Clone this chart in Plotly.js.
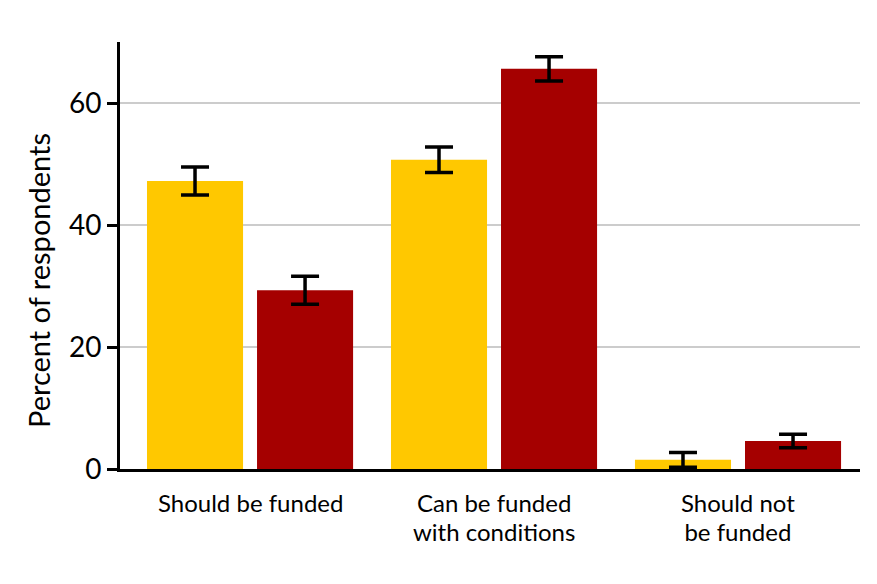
<!DOCTYPE html>
<html><head><meta charset="utf-8">
<script src="https://cdn.plot.ly/plotly-3.0.1.min.js"></script>
<style>html,body{margin:0;padding:0;background:#fff}#chart{width:877px;height:584px}</style>
</head><body><div id="chart"></div>
<script>
const categories = ["Should be funded", "Can be funded<br>with conditions", "Should not<br>be funded"];
const seriesA = [47.2, 50.7, 1.5];
const errA = [2.3, 2.1, 1.2];
const seriesB = [29.3, 65.6, 4.6];
const errB = [2.3, 2.0, 1.1];
const yTicks = [0, 20, 40, 60];
const yTitle = 'Percent of respondents';

const font = "Lato, 'Noto Sans', sans-serif";
const mk = (y, e, color) => ({
  type: 'bar', x: categories, y: y,
  marker: {color: color},
  error_y: {type: 'data', array: e, visible: true, color: '#000', thickness: 3.5, width: 14},
  hoverinfo: 'none'
});
const data = [mk(seriesA, errA, '#FFC800'), mk(seriesB, errB, '#A50000')];

const T = 42, B = 469, L = 120, R = 860;
const py = p => (B - p) / (B - T);
const px = p => (p - L) / (R - L);

const annotations = categories.map(c => ({
  x: c, xref: 'x', y: py(486), yref: 'paper',
  text: c.split('<br>').map(s => '<span style="font-size:24px">' + s + '</span>').join('<br>'),
  showarrow: false, xanchor: 'center', yanchor: 'top',
  font: {size: 22.2, family: font, color: '#000'}
}));
annotations.push({
  x: px(38), xref: 'paper', y: py(281), yref: 'paper', text: yTitle,
  textangle: -90, showarrow: false, xanchor: 'center', yanchor: 'middle',
  font: {size: 29, family: font, color: '#000'}
});

const layout = {
  width: 877, height: 584,
  margin: {l: L, r: 877 - R, t: T, b: 584 - B},
  paper_bgcolor: '#fff', plot_bgcolor: '#fff',
  showlegend: false,
  barmode: 'group', bargap: 0.098, bargroupgap: 0.127,
  font: {family: font, color: '#000'},
  annotations: annotations,
  xaxis: {
    range: [-0.533, 2.5], showgrid: false, zeroline: false,
    showline: true, linecolor: '#000', linewidth: 3,
    ticks: '', showticklabels: false
  },
  yaxis: {
    range: [0, 70], tickvals: yTicks, ticktext: yTicks.map(String),
    showgrid: true, gridcolor: '#cccccc', gridwidth: 2, zeroline: false,
    showline: true, linecolor: '#000', linewidth: 3,
    ticks: 'outside', ticklen: 10, tickwidth: 3, tickcolor: '#000',
    tickfont: {size: 28, family: font}
  }
};
Plotly.newPlot('chart', data, layout, {displayModeBar: false, staticPlot: true});
</script></body></html>
